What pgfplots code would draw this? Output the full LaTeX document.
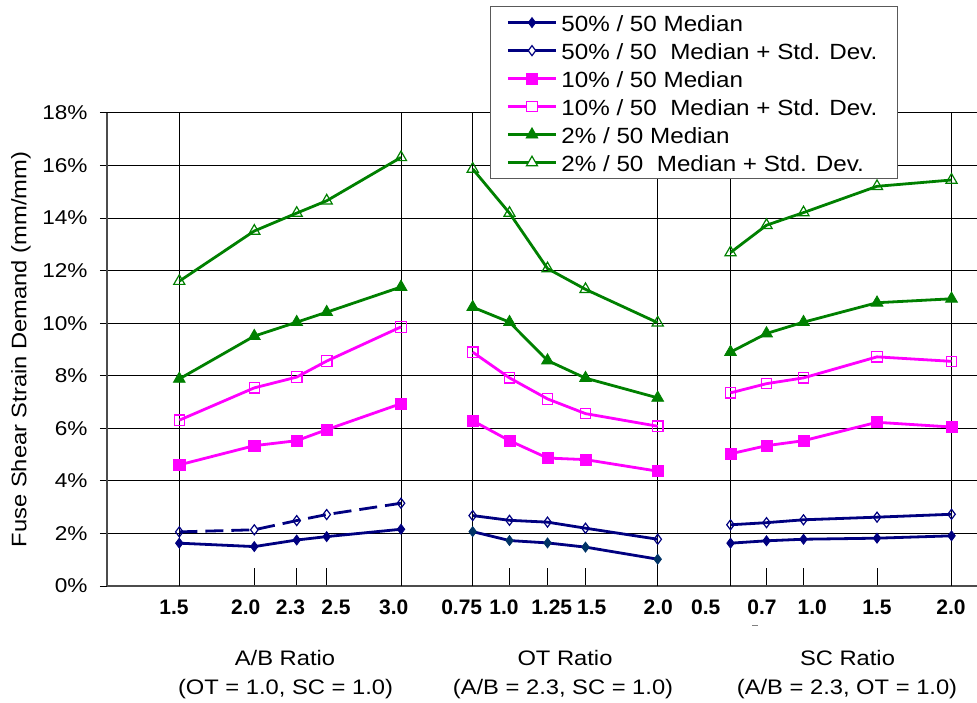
\documentclass[border=0pt]{standalone}
\usepackage{fontspec}
\setmainfont{Liberation Sans}[FakeStretch=1.13]
\newfontfamily\tickfont{Liberation Sans}
\newfontfamily\legfont{Liberation Sans}[FakeStretch=1.10]
\usepackage{pgfplots}
\pgfplotsset{compat=1.18}
\definecolor{navy}{RGB}{0,0,128}
\definecolor{otnavy}{RGB}{0,51,102}
\definecolor{mag}{RGB}{255,0,255}
\definecolor{grn}{RGB}{0,128,0}
\pgfplotsset{
  s50m/.style={navy, line width=1.4pt, mark=diamond*, mark size=2.5pt, mark options={solid, fill=navy, line width=0.4pt}},
  s50s/.style={navy, line width=1.4pt, mark=diamond, mark size=2.5pt, mark options={solid, line width=0.6pt}},
  s10m/.style={mag, line width=1.4pt, mark=square*, mark size=2.8pt, mark options={solid, fill=mag, line width=0.4pt}},
  s10s/.style={mag, line width=1.4pt, mark=square, mark size=2.6pt, mark options={solid, line width=0.6pt}},
  s2m/.style={grn, line width=1.4pt, mark=triangle*, mark size=3.4pt, mark options={solid, fill=grn, line width=0.4pt}},
  s2s/.style={grn, line width=1.4pt, mark=triangle, mark size=3.2pt, mark options={solid, line width=0.6pt}},
}
\begin{document}
\begin{tikzpicture}
\path[use as bounding box] (-53.5pt,-58pt) rectangle (435pt,293pt);
\begin{axis}[
  at={(0,0)}, anchor=south west,
  scale only axis, width=435pt, height=236.5pt,
  xmin=107, xmax=977, ymin=0, ymax=18,
  axis lines=left,
  axis line style={-, draw=gray!60!black, line width=0.8pt},
  clip=false,
  ytick={0,2,...,18},
  yticklabel={\pgfmathprintnumber{\tick}\%},
  /pgf/number format/assume math mode=true,
  yticklabel style={font=\fontsize{10}{12}\selectfont, xshift=-6.2pt},
  ymajorgrids,
  grid style={black, line width=0.5pt},
  tick align=inside,
  major tick length=3.5pt,
  minor tick length=9pt,
  every major x tick/.append style={draw=none},
  every minor x tick/.append style={draw=black, line width=0.5pt},
  every major y tick/.append style={xshift=-3.5pt, draw=black, line width=0.5pt},
  xtick={174,245.7,290.5,336,393.8,461.7,504,551.7,591.7,658.3,705.8,762,812.2,877,951},
  xticklabels={1.5,2.0,2.3,2.5,3.0,0.75,1.0,1.25,1.5,2.0,0.5,0.7,1.0,1.5,2.0},
  xticklabel style={font=\tickfont\bfseries\fontsize{10.5}{12}\selectfont, yshift=-3.6pt},
  extra x ticks={179.3,401,472.7,657.7,730.5,951.5},
  extra x tick labels={},
  extra x tick style={grid=major},
  minor xtick={254.3,296.7,326.7,509.5,547.5,585.5,766.5,803.5,877},
  ylabel={Fuse Shear Strain Demand (mm/mm)},
  ylabel style={at={(axis description cs:-0.0989,0.5)}, anchor=center, font=\fontsize{10.5}{12}\selectfont},
  legend style={at={(axis description cs:0.4402,1.2262)}, anchor=north west,
    draw=gray!70!black, line width=0.6pt, fill=white,
    font=\legfont\fontsize{11}{13}\selectfont, row sep=0pt,
    inner xsep=8pt, inner ysep=1pt,
    nodes={inner ysep=0pt, inner xsep=2pt, text height=11.4pt, text depth=2.6pt}},
  legend cell align=left,
  legend image code/.code={\draw[mark repeat=2, mark phase=2, #1] plot coordinates {(0pt,0pt) (12pt,0pt) (24pt,0pt)};},
]
\addlegendimage{s50m}
\addlegendentry{50\% / 50 Median}
\addlegendimage{s50s, mark=diamond*, mark options={solid, fill=white, line width=0.6pt}}
\addlegendentry{50\% / 50~ Median + Std. Dev.}
\addlegendimage{s10m}
\addlegendentry{10\% / 50 Median}
\addlegendimage{s10s, mark=square*, mark options={solid, fill=white, line width=0.6pt}}
\addlegendentry{10\% / 50~ Median + Std. Dev.}
\addlegendimage{s2m}
\addlegendentry{2\% / 50 Median}
\addlegendimage{s2s, mark=triangle*, mark options={solid, fill=white, line width=0.6pt}}
\addlegendentry{2\% / 50~ Median + Std. Dev.}

% A/B group
\addplot[s2s, forget plot] coordinates {(179.3,11.60)(254.3,13.51)(296.7,14.19)(326.7,14.66)(401,16.31)};
\addplot[s2m, forget plot] coordinates {(179.3,7.88)(254.3,9.51)(296.7,10.04)(326.7,10.42)(401,11.38)};
\addplot[s10s, forget plot] coordinates {(179.3,6.31)(254.3,7.54)(296.7,7.95)(326.7,8.56)(401,9.86)};
\addplot[s10m, forget plot] coordinates {(179.3,4.61)(254.3,5.34)(296.7,5.53)(326.7,5.95)(401,6.94)};
\addplot[s50s, dash pattern=on 9pt off 4pt, forget plot] coordinates {(179.3,2.06)(254.3,2.14)(296.7,2.49)(326.7,2.72)(401,3.15)};
\addplot[s50m, forget plot] coordinates {(179.3,1.63)(254.3,1.50)(296.7,1.75)(326.7,1.88)(401,2.16)};
% OT group
\addplot[s2s, forget plot] coordinates {(472.7,15.87)(509.5,14.19)(547.5,12.08)(585.5,11.29)(657.7,10.02)};
\addplot[s2m, forget plot] coordinates {(472.7,10.61)(509.5,10.04)(547.5,8.58)(585.5,7.91)(657.7,7.16)};
\addplot[s10s, forget plot] coordinates {(472.7,8.90)(509.5,7.92)(547.5,7.12)(585.5,6.56)(657.7,6.08)};
\addplot[s10m, forget plot] coordinates {(472.7,6.29)(509.5,5.53)(547.5,4.87)(585.5,4.81)(657.7,4.37)};
\addplot[s50s, forget plot] coordinates {(472.7,2.68)(509.5,2.50)(547.5,2.43)(585.5,2.20)(657.7,1.78)};
\addplot[s50m, mark options={solid, fill=otnavy, draw=otnavy, line width=0.4pt}, forget plot] coordinates {(472.7,2.07)(509.5,1.73)(547.5,1.64)(585.5,1.48)(657.7,1.02)};
% SC group
\addplot[s2s, forget plot] coordinates {(730.5,12.69)(766.5,13.73)(803.5,14.21)(877,15.21)(951.5,15.45)};
\addplot[s2m, forget plot] coordinates {(730.5,8.90)(766.5,9.61)(803.5,10.04)(877,10.78)(951.5,10.93)};
\addplot[s10s, forget plot] coordinates {(730.5,7.35)(766.5,7.70)(803.5,7.92)(877,8.72)(951.5,8.55)};
\addplot[s10m, forget plot] coordinates {(730.5,5.03)(766.5,5.34)(803.5,5.53)(877,6.23)(951.5,6.05)};
\addplot[s50s, forget plot] coordinates {(730.5,2.33)(766.5,2.41)(803.5,2.52)(877,2.62)(951.5,2.73)};
\addplot[s50m, forget plot] coordinates {(730.5,1.63)(766.5,1.72)(803.5,1.78)(877,1.82)(951.5,1.91)};

\draw[gray, line width=0.6pt] (axis cs:752,-1.49) -- (axis cs:758,-1.49);

\begin{scope}[font=\fontsize{10.5}{12}\selectfont]
\node[anchor=base] at (axis cs:285,-3.01) {A/B Ratio};
\node[anchor=base] at (axis cs:285.5,-4.12) {(OT = 1.0, SC = 1.0)};
\node[anchor=base] at (axis cs:565,-3.01) {OT Ratio};
\node[anchor=base] at (axis cs:563,-4.12) {(A/B = 2.3, SC = 1.0)};
\node[anchor=base] at (axis cs:847.5,-3.01) {SC Ratio};
\node[anchor=base] at (axis cs:847,-4.12) {(A/B = 2.3, OT = 1.0)};
\end{scope}
\end{axis}
\end{tikzpicture}
\end{document}
